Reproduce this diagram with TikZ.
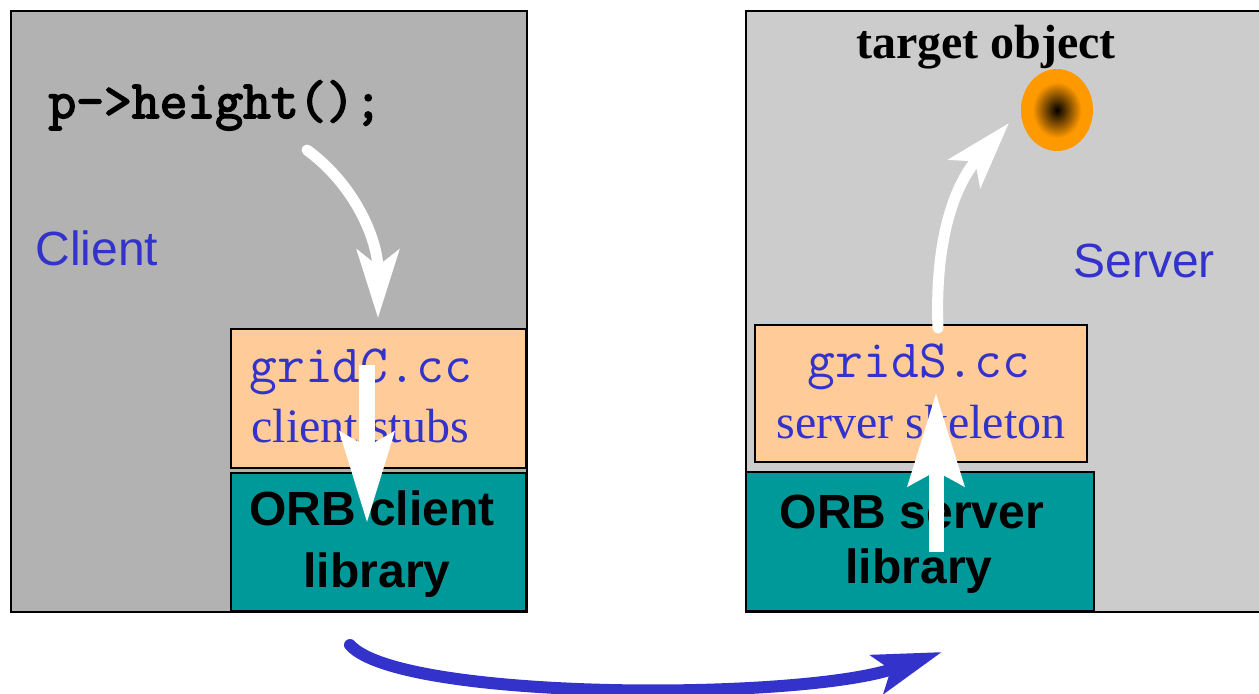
\documentclass[tikz,border=0pt]{standalone}
\usepackage{fontspec}
\setmainfont{Liberation Serif}
\setsansfont{Liberation Sans}
\newfontface\boldcode{Latin Modern Mono}[FakeBold=3]
\usetikzlibrary{arrows.meta,shapes.geometric}
\definecolor{clientgray}{HTML}{B2B2B2}
\definecolor{servergray}{HTML}{CCCCCC}
\definecolor{stubpeach}{HTML}{FFCC99}
\definecolor{orbteal}{HTML}{009999}
\definecolor{labelblue}{HTML}{3333CC}
\definecolor{tgtorange}{HTML}{FF9900}
\pgfdeclareradialshading{tgtglow}{\pgfpoint{0bp}{0bp}}%
  {color(0bp)=(black); color(17bp)=(tgtorange); color(50bp)=(tgtorange)}

\begin{document}
\begin{tikzpicture}[x=.5pt,y=-.5pt,font=\fontsize{24}{28}\selectfont,
  hostbox/.style={draw=black,line width=1.1pt,inner sep=0pt,anchor=north west},
  partbox/.style={draw=black,line width=1pt,inner sep=0pt,anchor=north west},
  txt/.style={inner sep=0pt},
  bluelabel/.style={txt,text=labelblue},
  callflow/.style={white,line width=5.5pt,line cap=round},
  passflow/.style={white,line width=8pt}]
 \useasboundingbox (0,0) rectangle (1259,693);
 % hosts
 \node[hostbox,fill=clientgray,minimum width=258pt,minimum height=300.5pt]
   (client) at (10,10) {};
 \node[hostbox,fill=servergray,minimum width=265pt,minimum height=300.5pt]
   (server) at (745,10) {};
 % client side layers
 \node[partbox,fill=stubpeach,minimum width=147.5pt,minimum height=69.5pt]
   (stubs) at (230,328) {};
 \node[partbox,fill=orbteal,minimum width=147.5pt,minimum height=69pt]
   (orbc) at (230,472) {};
 % server side layers
 \node[partbox,fill=stubpeach,minimum width=166pt,minimum height=68.5pt]
   (skel) at (754,324) {};
 \node[partbox,fill=orbteal,minimum width=174pt,minimum height=69.5pt]
   (orbs) at (745,471) {};
 % texts
 \node[txt,anchor=base west,font=\fontsize{27}{30}\selectfont\boldcode]
   (call) at (48,118) {p->height();};
 \node[bluelabel,anchor=base west,font=\fontsize{24}{28}\selectfont\sffamily]
   (clientlbl) at (35,265) {Client};
 \node[bluelabel,anchor=base west,font=\fontsize{24}{28}\selectfont\sffamily]
   (serverlbl) at (1073,277) {Server};
 \node[txt,anchor=base,font=\fontsize{24}{28}\selectfont\bfseries]
   (tgtlbl) at (986,58) {target object};
 \node[bluelabel,anchor=base west,font=\fontsize{27}{30}\selectfont\ttfamily]
   (gridc) at (249,382) {gridC.cc};
 \node[bluelabel,anchor=base west] (stubslbl) at (251,442) {client stubs};
 \node[txt,anchor=base,font=\fontsize{24}{28}\selectfont\sffamily\bfseries]
   (orbc1) at (372,525) {ORB client};
 \node[txt,anchor=base,font=\fontsize{24}{28}\selectfont\sffamily\bfseries]
   (orbc2) at (377,587) {library};
 \node[bluelabel,anchor=base,font=\fontsize{27}{30}\selectfont\ttfamily]
   (grids) at (919,377) {gridS.cc};
 \node[bluelabel,anchor=base] (skellbl) at (921,438) {server skeleton};
 \node[txt,anchor=base,font=\fontsize{24}{28}\selectfont\sffamily\bfseries]
   (orbs1) at (912,528) {ORB server};
 \node[txt,anchor=base,font=\fontsize{24}{28}\selectfont\sffamily\bfseries]
   (orbs2) at (919,583) {library};
 % target object
 \node[ellipse,shading=tgtglow,inner sep=0pt,minimum width=36pt,minimum height=41pt]
   (target) at (1057,110) {};
 % flow of the call
 \coordinate (callfrom) at (307,150);
 \coordinate (stubin) at (378,318);
 \coordinate (stubtop) at (367,365);
 \coordinate (orbcin) at (367,523);
 \coordinate (clientout) at (350,645);
 \coordinate (serverin) at (942,652);
 \coordinate (orbsout) at (936,552);
 \coordinate (skelin) at (936,393);
 \coordinate (skelout) at (938,328);
 \coordinate (tgtin) at (1009,123);
 \draw[callflow,-{Stealth[length=34pt,width=21pt,inset=8pt]}]
   (callfrom) .. controls (355,185) and (378,240) .. (stubin);
 \draw[passflow,-{Stealth[length=45pt,width=26.5pt,inset=7pt]}]
   (stubtop) -- (orbcin);
 \draw[labelblue,line width=6pt,line cap=round,-{Stealth[length=34pt,width=20pt,inset=7pt]}]
   (clientout) .. controls (400,701) and (800,701) .. (serverin);
 \draw[passflow,line width=7.5pt,-{Stealth[length=46pt,width=27.5pt,inset=7pt]}]
   (orbsout) -- (skelin);
 \draw[callflow,-{Stealth[length=33.5pt,width=21pt,inset=8pt]}]
   (skelout) .. controls (935,250) and (950,190) .. (tgtin);
\end{tikzpicture}
\end{document}
